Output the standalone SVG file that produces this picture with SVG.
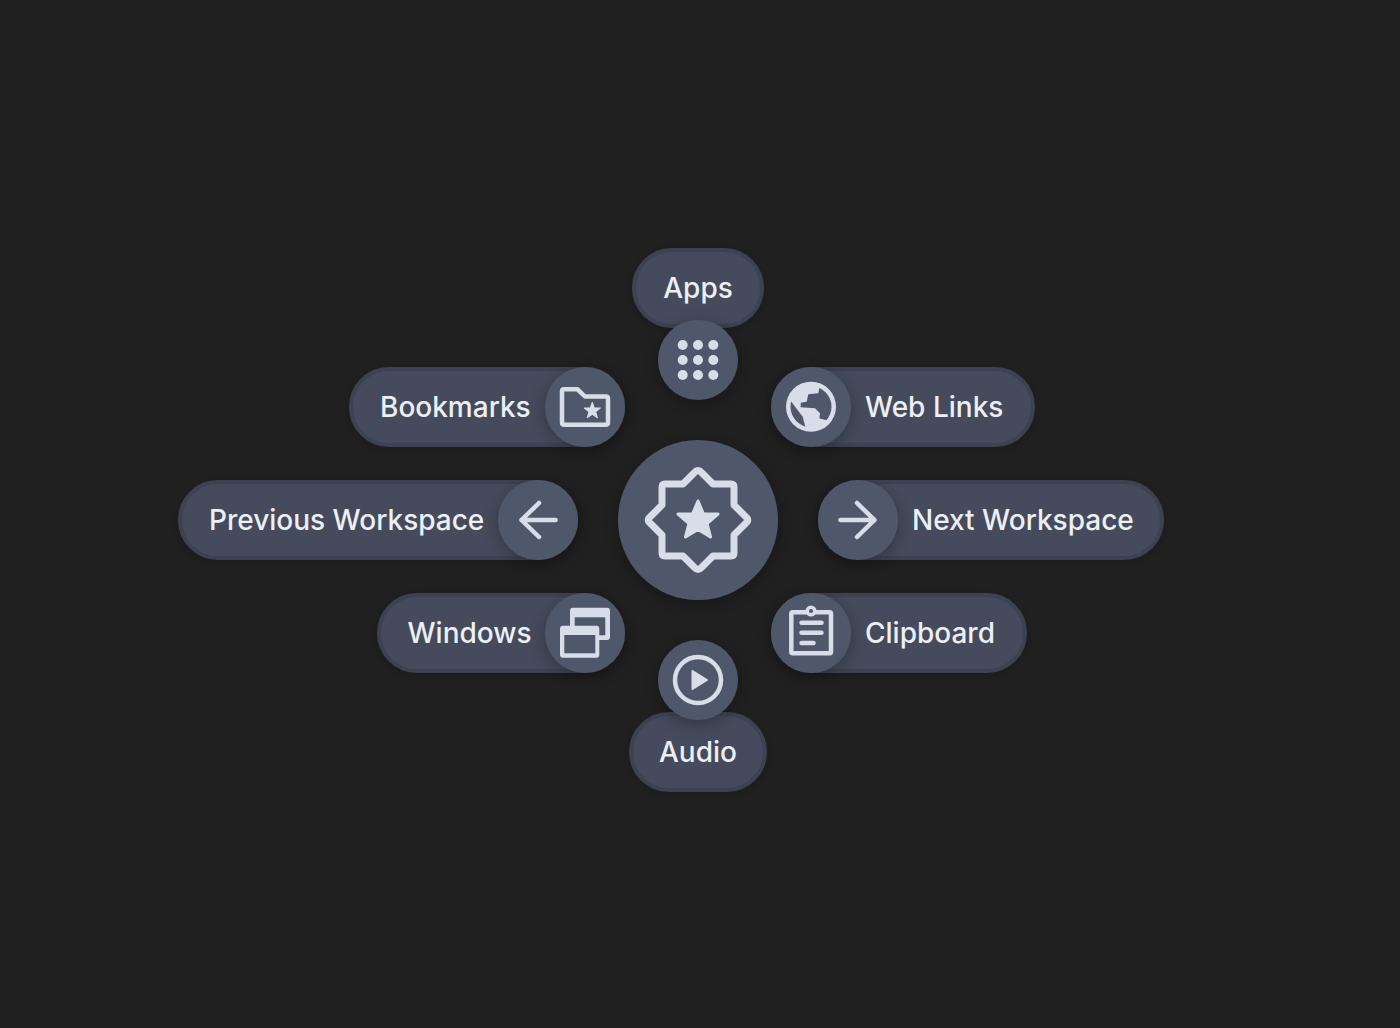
<svg xmlns="http://www.w3.org/2000/svg" width="1400" height="1028" viewBox="0 0 1400 1028">
<style>
.pill{fill:#444b5b;stroke:#3c4353;stroke-width:4;filter:url(#ps)}
.disc{fill:#4f586b;filter:url(#ds)}
.lbl{font-family:Inter,"Noto Sans",sans-serif;font-size:28px;font-weight:500;fill:#eceff4}
.i{fill:none;stroke:#d8dee9;stroke-width:4.5;stroke-linecap:round;stroke-linejoin:round}
.f{fill:#d8dee9}
.d{fill:#4f586b}
</style>
<defs>
<filter id="ps" x="-20%" y="-40%" width="140%" height="180%"><feDropShadow dx="0" dy="2" stdDeviation="5" flood-color="#000" flood-opacity=".18"/></filter>
<filter id="ds" x="-40%" y="-40%" width="180%" height="180%"><feDropShadow dx="0" dy="4" stdDeviation="9" flood-color="#000" flood-opacity=".3"/></filter>
<clipPath id="gl"><circle cx="811" cy="406.700" r="20.500"/></clipPath>
</defs>
<rect width="1400" height="1028" fill="#202020"/>
<g id="connectors"/>
<g id="apps">
<rect class="pill" x="634" y="250" width="128" height="76" rx="38"/>
<circle class="disc" cx="698" cy="360" r="40"/>
<text class="lbl" x="698" y="298" text-anchor="middle">Apps</text>
<g class="f"><circle cx="682.7" cy="345" r="5"/><circle cx="698" cy="345" r="5"/><circle cx="713.3" cy="345" r="5"/><circle cx="682.7" cy="360" r="5"/><circle cx="698" cy="360" r="5"/><circle cx="713.3" cy="360" r="5"/><circle cx="682.7" cy="375" r="5"/><circle cx="698" cy="375" r="5"/><circle cx="713.3" cy="375" r="5"/></g>
</g>
<g id="bookmarks">
<rect class="pill" x="351" y="369" width="272" height="76" rx="38"/>
<circle class="disc" cx="585" cy="407" r="40"/>
<text class="lbl" x="380" y="417">Bookmarks</text>
<path class="i" d="M562 391.500Q562 389.300 564.200 389.300H577.500L585 396.500H605.800Q608 396.500 608 398.700V422.500Q608 424.700 605.800 424.700H564.200Q562 424.700 562 422.500Z"/>
<path class="f" stroke="#d8dee9" stroke-width="1" stroke-linejoin="round" d="M592.300 402.300L594.400 408H600.500L595.700 411.900L597.400 417.800L592.300 414.400L587.200 417.800L588.900 411.900L584.100 408H590.200Z"/>
</g>
<g id="web-links">
<rect class="pill" x="773" y="369" width="260" height="76" rx="38"/>
<circle class="disc" cx="811" cy="407" r="40"/>
<text class="lbl" x="865" y="417">Web Links</text>
<circle class="f" cx="811" cy="406.700" r="25"/>
<g clip-path="url(#gl)">
<path class="d" d="M820 385L818.300 393.300L808.300 394.300L806.700 401.700L800.700 402.700V407.300L815 408.300L820 413.300L819.300 418.300L828.300 420.700L838 425V385Z"/>
<path class="d" d="M790 400L802.700 416.700L805.700 428H793.300L785 410Z"/>
</g>
</g>
<g id="previous-workspace">
<rect class="pill" x="180" y="482" width="396" height="76" rx="38"/>
<circle class="disc" cx="538" cy="520" r="40"/>
<text class="lbl" x="209" y="530">Previous Workspace</text>
<path class="i" d="M555.500 520H521.500M539 503L521.500 520L539 537"/>
</g>
<g id="next-workspace">
<rect class="pill" x="820" y="482" width="342" height="76" rx="38"/>
<circle class="disc" cx="858" cy="520" r="40"/>
<text class="lbl" x="912" y="530">Next Workspace</text>
<path class="i" d="M840.500 520H874.500M857 503L874.500 520L857 537"/>
</g>
<g id="windows">
<rect class="pill" x="379" y="595" width="244" height="76" rx="38"/>
<circle class="disc" cx="585" cy="633" r="40"/>
<text class="lbl" x="407.500" y="643">Windows</text>
<rect class="f" x="570" y="607.700" width="40" height="32.300" rx="3"/>
<rect class="d" x="574.700" y="617.300" width="30.600" height="18"/>
<rect class="f" x="560" y="625.700" width="39.300" height="32" rx="3"/>
<rect class="d" x="564.300" y="635" width="31" height="18.300"/>
</g>
<g id="clipboard">
<rect class="pill" x="773" y="595" width="252" height="76" rx="38"/>
<circle class="disc" cx="811" cy="633" r="40"/>
<text class="lbl" x="865" y="643">Clipboard</text>
<rect class="i" x="791.300" y="612.300" width="39.700" height="41" rx="1.500"/>
<circle class="f" cx="811" cy="611" r="5.500"/>
<circle class="d" cx="811" cy="611" r="2"/>
<path class="i" d="M801.500 622.700H821.500M801.500 632.700H821.500M801.500 643H813.500"/>
</g>
<g id="audio">
<rect class="pill" x="631" y="714" width="134" height="76" rx="38"/>
<circle class="disc" cx="698" cy="680" r="40"/>
<text class="lbl" x="698" y="762" text-anchor="middle">Audio</text>
<circle class="i" cx="698" cy="680" r="23"/>
<path class="f" stroke="#d8dee9" stroke-width="2" stroke-linejoin="round" d="M692.500 671L707 680L692.500 689Z"/>
</g>
<g id="center">
<circle class="disc" cx="698" cy="520" r="80"/>
<path fill="none" stroke="#d8dee9" stroke-width="7" stroke-linejoin="round" d="M694.500 472.500Q698 468.500 701.500 472.500L713 484H731Q734 484 734 487V505L745.500 516.500Q750 520 745.500 523.500L734 535V553Q734 556 731 556H713L701.500 567.500Q698 571.500 694.500 567.500L683 556H665Q662 556 662 553V535L650.500 523.500Q646 520 650.500 516.500L662 505V487Q662 484 665 484H683Z"/>
<path class="f" stroke="#d8dee9" stroke-width="3" stroke-linejoin="round" d="M698 501L703.500 514H718L707 523.500L710.500 537L698 529.500L685.500 537L689 523.500L678 514H692.500Z"/>
</g>
</svg>
